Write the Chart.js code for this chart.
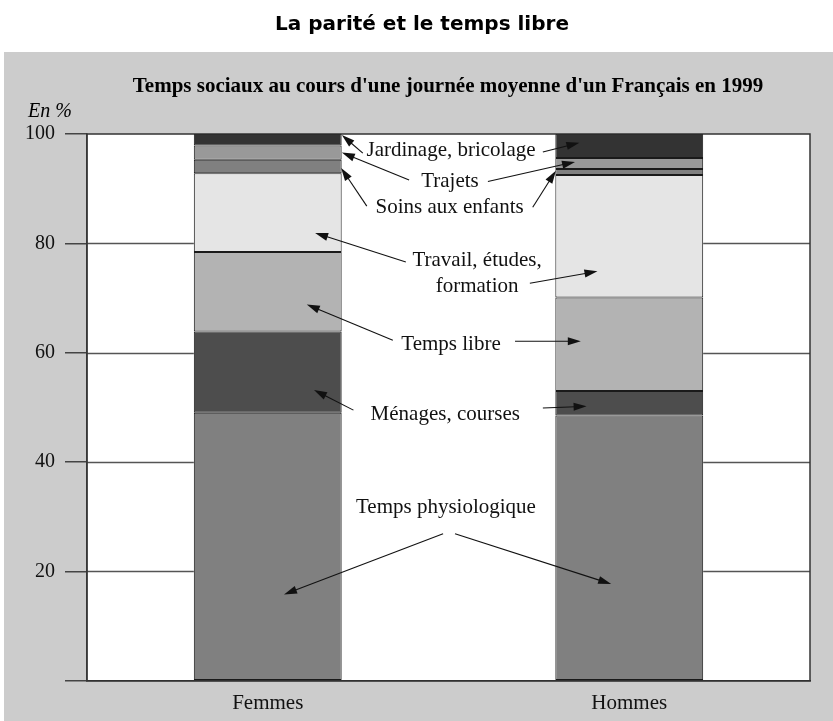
<!DOCTYPE html>
<html lang="fr">
<head>
<meta charset="utf-8">
<title>La parité et le temps libre</title>
<script src="https://cdn.jsdelivr.net/npm/chart.js@4.4.1/dist/chart.umd.min.js"></script>
<style>
  html, body { margin: 0; padding: 0; background: #fff; overflow: hidden; }
  canvas { display: block; }
</style>
</head>
<body>
<canvas id="chart" width="833" height="721"></canvas>
<script>
// valeurs (en % de la journée)
const categories = ['Femmes', 'Hommes'];
const physiologique = [49.0, 48.5];
const menages = [14.9, 4.5];
const tempsLibre = [14.5, 17.1];
const travail = [14.4, 22.4];
const soins = [2.5, 1.1];
const trajets = [2.6, 2.0];
const jardinage = [2.1, 4.4];
const yTicks = [0, 20, 40, 60, 80, 100];

const serif = '"Liberation Serif", "Times New Roman", serif';

// étiquettes + flèches, en coordonnées du graphique : t = 0 -> Femmes, t = 1 -> Hommes, v = valeur en %
const annotations = [
    { lines: ['Jardinage, bricolage'], at: [0.507, 96.9],
      arrows: [[0.263, 96.5, 0.205, 99.8], [0.761, 96.7, 0.862, 98.4]] },
    { lines: ['Trajets'], at: [0.504, 91.3],
      arrows: [[0.391, 91.6, 0.205, 96.6], [0.609, 91.3, 0.850, 94.9]] },
    { lines: ['Soins aux enfants'], at: [0.503, 86.6],
      arrows: [[0.274, 86.8, 0.203, 93.8], [0.733, 86.6, 0.797, 93.3]] },
    { lines: ['Travail, études,', 'formation'], at: [0.579, 74.4],
      arrows: [[0.382, 76.6, 0.131, 81.9], [0.725, 72.7, 0.912, 74.9]] },
    { lines: ['Temps libre'], at: [0.507, 61.5],
      arrows: [[0.346, 62.3, 0.108, 68.8], [0.684, 62.1, 0.866, 62.1]] },
    { lines: ['Ménages, courses'], at: [0.491, 48.7],
      arrows: [[0.237, 49.5, 0.128, 53.2], [0.761, 49.9, 0.882, 50.2]] },
    { lines: ['Temps physiologique'], at: [0.493, 31.7],
      arrows: [[0.485, 26.9, 0.045, 15.8], [0.518, 26.9, 0.950, 17.7]] }
];

const makeSet = (label, data, color) => ({
    label: label,
    data: data,
    backgroundColor: color,
    borderColor: '#1a1a1a',
    borderWidth: 1,
    borderSkipped: false,
    barPercentage: 0.409,
    categoryPercentage: 1
});

const datasets = [
    makeSet('Temps physiologique', physiologique, '#808080'),
    makeSet('Ménages, courses', menages, '#4d4d4d'),
    makeSet('Temps libre', tempsLibre, '#b3b3b3'),
    makeSet('Travail, études, formation', travail, '#e5e5e5'),
    makeSet('Soins aux enfants', soins, '#808080'),
    makeSet('Trajets', trajets, '#999999'),
    makeSet('Jardinage, bricolage', jardinage, '#333333')
];

const toPixel = (chart, t, v) => {
    const xs = chart.scales.x;
    const x0 = xs.getPixelForValue(0);
    const x1 = xs.getPixelForValue(1);
    return [x0 + t * (x1 - x0), chart.scales.y.getPixelForValue(v)];
};

const drawArrow = (ctx, x1, y1, x2, y2) => {
    const ang = Math.atan2(y2 - y1, x2 - x1);
    const len = 13, half = 4;
    ctx.beginPath();
    ctx.moveTo(x1, y1);
    ctx.lineTo(x2 - Math.cos(ang) * (len - 2), y2 - Math.sin(ang) * (len - 2));
    ctx.stroke();
    ctx.beginPath();
    ctx.moveTo(x2, y2);
    ctx.lineTo(x2 - Math.cos(ang) * len - Math.sin(ang) * half, y2 - Math.sin(ang) * len + Math.cos(ang) * half);
    ctx.lineTo(x2 - Math.cos(ang) * len + Math.sin(ang) * half, y2 - Math.sin(ang) * len - Math.cos(ang) * half);
    ctx.closePath();
    ctx.fill();
};

const panelPlugin = {
    id: 'panel',
    beforeDraw(chart) {
        const ctx = chart.ctx;
        const area = chart.chartArea;
        ctx.save();
        ctx.fillStyle = '#ffffff';
        ctx.fillRect(0, 0, chart.width, chart.height);
        ctx.fillStyle = '#cccccc';
        ctx.fillRect(4, 52, chart.width - 4, chart.height - 52);
        ctx.fillStyle = '#ffffff';
        ctx.fillRect(area.left, area.top, area.right - area.left, area.bottom - area.top);

        ctx.fillStyle = '#000';
        ctx.textBaseline = 'alphabetic';
        ctx.textAlign = 'center';
        ctx.font = 'bold 20px "DejaVu Sans", sans-serif';
        ctx.fillText('La parité et le temps libre', 422, 30);
        ctx.font = 'bold 21px ' + serif;
        ctx.fillText("Temps sociaux au cours d'une journée moyenne d'un Français en 1999", 448, 92);
        ctx.textAlign = 'left';
        ctx.font = 'italic 20px ' + serif;
        ctx.fillText('En %', 28, 117);
        ctx.restore();
    },
    beforeDatasetsDraw(chart) {
        // lignes de grille seulement dans les colonnes blanches de gauche et de droite
        const ctx = chart.ctx;
        const area = chart.chartArea;
        const fem = chart.getDatasetMeta(0).data[0];
        const hom = chart.getDatasetMeta(0).data[1];
        ctx.save();
        ctx.strokeStyle = '#555';
        ctx.lineWidth = 1.5;
        yTicks.slice(1, -1).forEach(v => {
            const y = Math.round(chart.scales.y.getPixelForValue(v)) + 0.5;
            ctx.beginPath();
            ctx.moveTo(area.left, y);
            ctx.lineTo(fem.x - fem.width / 2, y);
            ctx.moveTo(hom.x + hom.width / 2, y);
            ctx.lineTo(area.right, y);
            ctx.stroke();
        });
        ctx.restore();
    },
    afterDatasetsDraw(chart) {
        const ctx = chart.ctx;
        const area = chart.chartArea;
        ctx.save();
        ctx.strokeStyle = '#333';
        ctx.lineWidth = 1.5;
        ctx.strokeRect(area.left, area.top, area.right - area.left, area.bottom - area.top);

        ctx.fillStyle = '#111';
        ctx.strokeStyle = '#111';
        ctx.lineWidth = 1.1;
        ctx.font = '21px ' + serif;
        ctx.textAlign = 'center';
        ctx.textBaseline = 'middle';
        annotations.forEach(a => {
            const [x, y] = toPixel(chart, a.at[0], a.at[1]);
            const lh = 26;
            a.lines.forEach((line, i) => {
                ctx.fillText(line, x, y + (i - (a.lines.length - 1) / 2) * lh);
            });
            a.arrows.forEach(ar => {
                const [x1, y1] = toPixel(chart, ar[0], ar[1]);
                const [x2, y2] = toPixel(chart, ar[2], ar[3]);
                drawArrow(ctx, x1, y1, x2, y2);
            });
        });
        ctx.restore();
    }
};

const ctx = document.getElementById('chart').getContext('2d');
const chart = new Chart(ctx, {
    type: 'bar',
    data: { labels: categories, datasets: datasets },
    options: {
        responsive: false,
        animation: false,
        devicePixelRatio: 1,
        layout: { padding: { top: 134, left: 15, right: 23, bottom: -5 } },
        plugins: {
            legend: { display: false },
            tooltip: { enabled: false },
            title: { display: false }
        },
        scales: {
            x: {
                stacked: true,
                grid: { display: false, drawTicks: false },
                border: { display: true, color: '#222', width: 1.5 },
                ticks: { color: '#111', padding: 10, font: { family: serif, size: 21 } }
            },
            y: {
                stacked: true,
                min: 0,
                max: 100,
                afterBuildTicks: axis => { axis.ticks = yTicks.map(v => ({ value: v })); },
                grid: { drawOnChartArea: false, drawTicks: true, tickLength: 22, color: '#444', lineWidth: 1.5 },
                border: { display: true, color: '#444', width: 1.5 },
                ticks: {
                    color: '#111',
                    padding: 10,
                    font: { family: serif, size: 20 },
                    callback: v => (v === 0 ? '' : v)
                }
            }
        }
    },
    plugins: [panelPlugin]
});
</script>
</body>
</html>
